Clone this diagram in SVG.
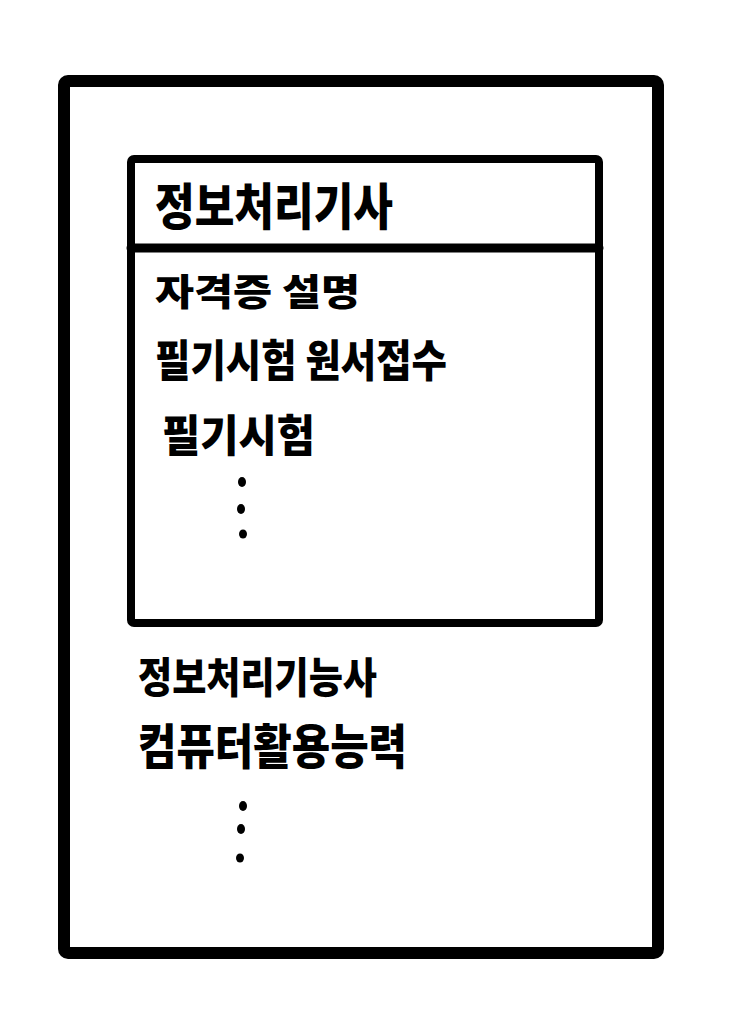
<svg xmlns="http://www.w3.org/2000/svg" width="731" height="1034" viewBox="0 0 731 1034">
  <style>
    .frame { fill: none; stroke: #000; stroke-linejoin: round; stroke-linecap: round; }
    .t { font-family: "Noto Sans CJK KR", "Noto Sans", sans-serif; font-weight: 900; fill: #000; }
    .dot { fill: #000; }
  </style>
  <rect width="731" height="1034" fill="#fff"/>
  <g id="outer-frame">
    <rect class="frame" x="64" y="81" width="594" height="872" rx="4" stroke-width="12"/>
  </g>
  <g id="card-jeongbo-gisa">
    <rect class="frame" x="131" y="159" width="468" height="464" rx="3" stroke-width="8"/>
    <line class="frame" x1="131" y1="248" x2="599" y2="248" stroke-width="9"/>
    <text class="t" x="155" y="225" font-size="50" textLength="238" lengthAdjust="spacingAndGlyphs">정보처리기사</text>
    <text class="t" x="155" y="306" font-size="37" textLength="205" lengthAdjust="spacingAndGlyphs">자격증 설명</text>
    <text class="t" x="155" y="377" font-size="44" textLength="292" lengthAdjust="spacingAndGlyphs">필기시험 원서접수</text>
    <text class="t" x="162" y="452" font-size="44" textLength="153" lengthAdjust="spacingAndGlyphs">필기시험</text>
    <ellipse class="dot" cx="242" cy="482" rx="4" ry="5"/>
    <ellipse class="dot" cx="241" cy="509" rx="4" ry="5"/>
    <ellipse class="dot" cx="243" cy="534" rx="4" ry="4.5"/>
  </g>
  <g id="list-others">
    <text class="t" x="138" y="693" font-size="42" textLength="239" lengthAdjust="spacingAndGlyphs">정보처리기능사</text>
    <text class="t" x="138" y="764" font-size="48" textLength="269" lengthAdjust="spacingAndGlyphs">컴퓨터활용능력</text>
    <ellipse class="dot" cx="243" cy="806" rx="4" ry="5"/>
    <ellipse class="dot" cx="241" cy="829" rx="4" ry="5"/>
    <ellipse class="dot" cx="240" cy="858" rx="4" ry="4.5"/>
  </g>
  <g id="connectors"></g>
</svg>
